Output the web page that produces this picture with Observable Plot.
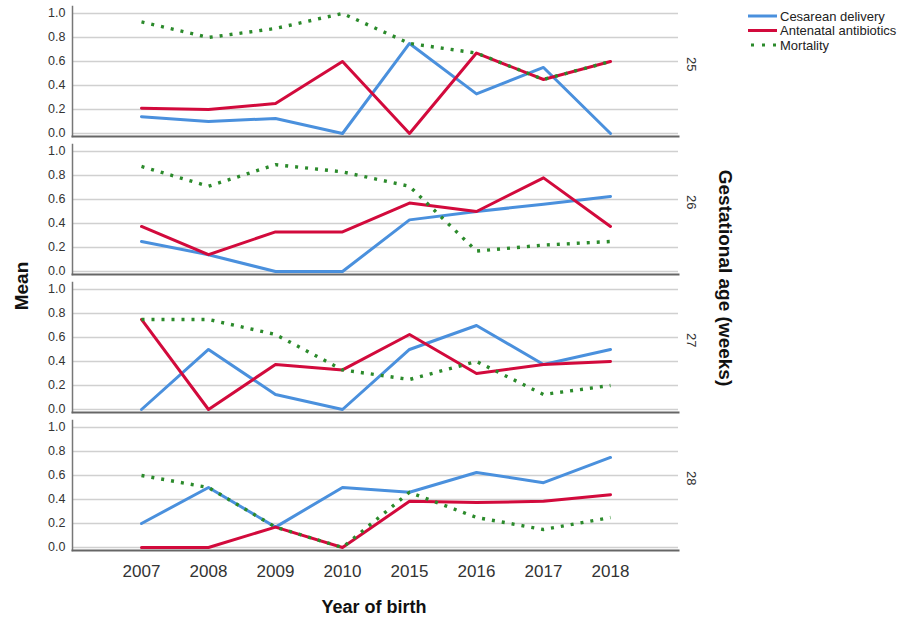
<!DOCTYPE html>
<html><head><meta charset="utf-8">
<script src="https://cdn.jsdelivr.net/npm/d3@7"></script>
<script src="https://cdn.jsdelivr.net/npm/@observablehq/plot@0.6"></script>
<style>
body{margin:0;background:#fff;font-family:"Liberation Sans",Arial,sans-serif;}
#wrap{position:relative;width:924px;height:620px;overflow:hidden;background:#fff;}
.lbl{position:absolute;font-weight:bold;color:#111;white-space:nowrap;transform-origin:center center;}
#legend{position:absolute;left:0;top:0;}
</style></head><body><div id="wrap"></div>
<script>
const years = ["2007","2008","2009","2010","2015","2016","2017","2018"];
const ages = ["25","26","27","28"];
const seriesNames = ["Cesarean delivery","Antenatal antibiotics","Mortality"];

const cesarean25 = [0.14, 0.10, 0.125, 0.0, 0.75, 0.33, 0.55, 0.0];
const cesarean26 = [0.25, 0.14, 0.0, 0.0, 0.43, 0.50, 0.56, 0.625];
const cesarean27 = [0.0, 0.50, 0.125, 0.0, 0.50, 0.70, 0.375, 0.50];
const cesarean28 = [0.20, 0.50, 0.17, 0.50, 0.46, 0.625, 0.54, 0.75];

const antibiotics25 = [0.21, 0.20, 0.25, 0.60, 0.0, 0.67, 0.45, 0.60];
const antibiotics26 = [0.375, 0.14, 0.33, 0.33, 0.57, 0.50, 0.78, 0.375];
const antibiotics27 = [0.75, 0.0, 0.375, 0.33, 0.625, 0.30, 0.375, 0.40];
const antibiotics28 = [0.0, 0.0, 0.17, 0.0, 0.385, 0.375, 0.385, 0.44];

const mortality25 = [0.93, 0.80, 0.875, 1.0, 0.75, 0.67, 0.45, 0.60];
const mortality26 = [0.875, 0.71, 0.89, 0.83, 0.71, 0.17, 0.22, 0.25];
const mortality27 = [0.75, 0.75, 0.625, 0.33, 0.25, 0.40, 0.125, 0.20];
const mortality28 = [0.60, 0.50, 0.17, 0.0, 0.46, 0.25, 0.15, 0.25];

const yTicks = [0, 0.2, 0.4, 0.6, 0.8, 1.0];

const table = {
  "Cesarean delivery": [cesarean25, cesarean26, cesarean27, cesarean28],
  "Antenatal antibiotics": [antibiotics25, antibiotics26, antibiotics27, antibiotics28],
  "Mortality": [mortality25, mortality26, mortality27, mortality28]
};
const colors = {"Cesarean delivery": "#4a90dd", "Antenatal antibiotics": "#d20a3c", "Mortality": "#2b8a2b"};

const rows = [];
seriesNames.forEach(s => table[s].forEach((vals, i) => vals.forEach((v, j) =>
  rows.push({series: s, age: ages[i], year: years[j], value: v}))));
const bySeries = s => rows.filter(r => r.series === s);

const chart = Plot.plot({
  width: 924, height: 620,
  marginLeft: 72, marginRight: 246, marginTop: 6, marginBottom: 70,
  style: {fontFamily: "Liberation Sans, Arial, sans-serif", background: "#fff"},
  x: {type: "point", domain: years, padding: 0.956, label: null},
  y: {domain: [-0.025, 1.058], label: null},
  fy: {domain: ages, paddingInner: 0.058, paddingOuter: 0, axis: null, label: null},
  marks: [
    Plot.ruleY(yTicks, {stroke: "#d0d0d0", strokeWidth: 1.6}),
    Plot.frame({anchor: "left", stroke: "#777", strokeWidth: 1.5}),
    Plot.frame({anchor: "bottom", stroke: "#666", strokeWidth: 2}),
    Plot.axisY(yTicks, {tickSize: 0, tickPadding: 7, tickFormat: d3.format(".1f"), fontSize: 12.5, fill: "#333", label: null}),
    Plot.axisX({tickSize: 0, tickPadding: 14, fontSize: 17, fill: "#333", label: null}),
    Plot.line(bySeries("Cesarean delivery"), {x: "year", y: "value", fy: "age", stroke: colors["Cesarean delivery"], strokeWidth: 3}),
    Plot.line(bySeries("Antenatal antibiotics"), {x: "year", y: "value", fy: "age", stroke: colors["Antenatal antibiotics"], strokeWidth: 3}),
    Plot.line(bySeries("Mortality"), {x: "year", y: "value", fy: "age", stroke: colors["Mortality"], strokeWidth: 3.4, strokeDasharray: "3,7", strokeLinecap: "butt"}),
    Plot.text(ages, {fy: d => d, text: d => d, frameAnchor: "right", dx: 13, rotate: 90, fontSize: 13, fill: "#333"})
  ]
});

const wrap = document.getElementById("wrap");
wrap.appendChild(chart);

function addLabel(text, cx, cy, size, rot) {
  const d = document.createElement("div");
  d.className = "lbl";
  d.textContent = text;
  d.style.fontSize = size + "px";
  d.style.left = cx + "px";
  d.style.top = cy + "px";
  d.style.transform = "translate(-50%,-50%)" + (rot ? " rotate(" + rot + "deg)" : "");
  wrap.appendChild(d);
}
addLabel("Mean", 22, 286, 19, -90);
addLabel("Gestational age (weeks)", 725, 278, 19, 90);
addLabel("Year of birth", 374, 607, 18, 0);

// legend
const leg = d3.select(wrap).append("svg").attr("id", "legend")
  .attr("width", 924).attr("height", 60)
  .style("font-family", "Liberation Sans, Arial, sans-serif");
const legendY = [16, 30.5, 45];
seriesNames.forEach((s, i) => {
  const g = leg.append("g").attr("transform", `translate(0,${legendY[i]})`);
  const ln = g.append("line").attr("x1", 748).attr("x2", 777).attr("y1", 0).attr("y2", 0)
    .attr("stroke", colors[s]).attr("stroke-width", 3);
  if (s === "Mortality") ln.attr("stroke-dasharray", "3,8").attr("x1", 751);
  g.append("text").attr("x", 780).attr("y", 0).attr("dy", "0.35em")
    .attr("font-size", 13).attr("fill", "#222").text(s);
});
</script></body></html>
